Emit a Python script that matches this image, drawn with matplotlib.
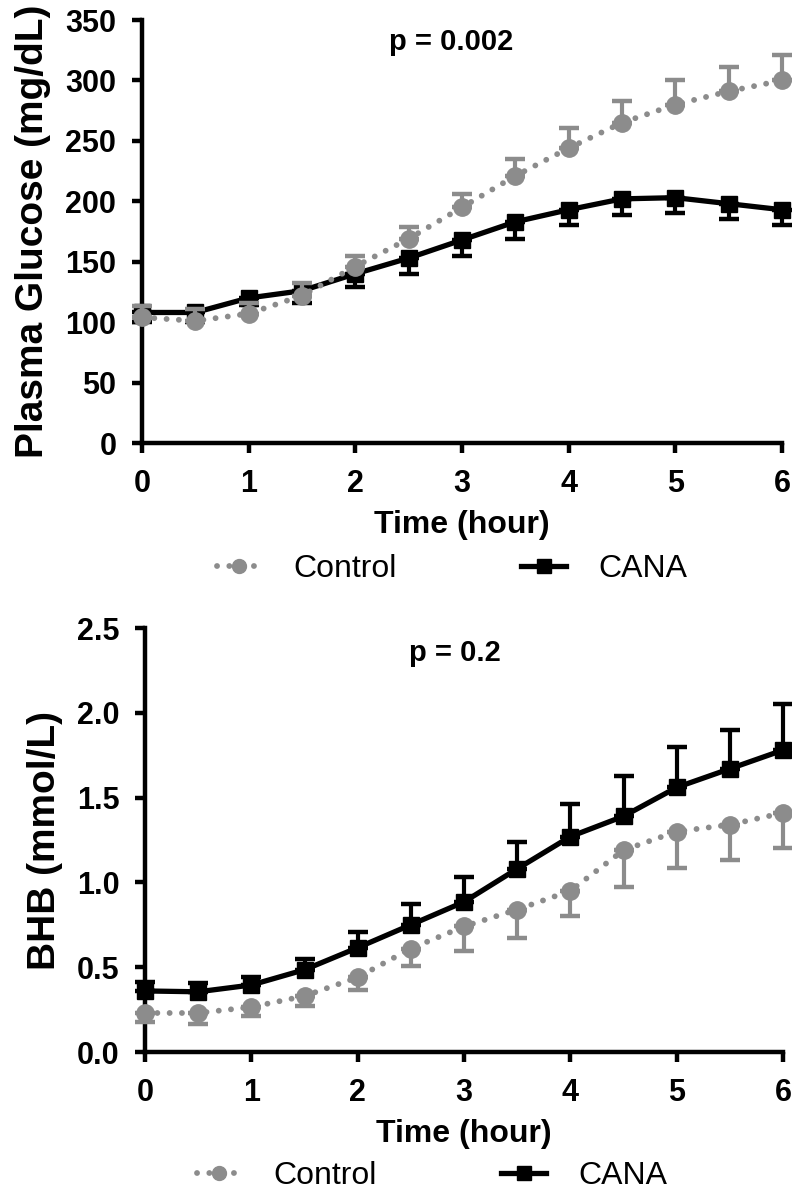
import matplotlib
matplotlib.use("Agg")
import matplotlib.pyplot as plt

plt.rcParams["font.family"] = ["Liberation Sans", "DejaVu Sans"]

# time points (hour)
time_h = [0, 0.5, 1, 1.5, 2, 2.5, 3, 3.5, 4, 4.5, 5, 5.5, 6]

# plasma glucose (mg/dL), mean and SEM
glucose_control = [104, 101, 107, 122, 146, 169, 195, 221, 244, 265, 280, 291, 300]
glucose_control_sem = [9, 10, 9, 10, 9, 10, 11, 14, 17, 18, 20, 20, 21]
glucose_cana = [108, 108, 120, 126, 140, 153, 168, 183, 193, 202, 203, 198, 193]
glucose_cana_sem = [8, 8, 6, 10, 11, 13, 13, 14, 13, 13, 13, 13, 13]

# BHB (mmol/L), mean and SEM
bhb_control = [0.23, 0.23, 0.265, 0.33, 0.44, 0.61, 0.74, 0.84, 0.95, 1.19, 1.30, 1.34, 1.41]
bhb_control_sem = [0.055, 0.065, 0.055, 0.06, 0.075, 0.10, 0.145, 0.17, 0.15, 0.22, 0.215, 0.21, 0.21]
bhb_cana = [0.36, 0.355, 0.395, 0.485, 0.615, 0.75, 0.885, 1.08, 1.27, 1.39, 1.56, 1.67, 1.78]
bhb_cana_sem = [0.05, 0.05, 0.05, 0.065, 0.095, 0.12, 0.145, 0.16, 0.19, 0.24, 0.24, 0.23, 0.27]

GRAY = "#8c8c8c"
BLACK = "#000000"


def one_sided(sem, upper):
    zeros = [0] * len(sem)
    return [zeros, sem] if upper else [sem, zeros]


def draw_panel(ax, ctrl, ctrl_sem, ctrl_up, cana, cana_sem, cana_up, ymax, ystep, ylabel, ptext, pxy, yfmt):
    eb = dict(fmt="none", elinewidth=3, capsize=7.5, capthick=3.2, clip_on=False)
    ax.errorbar(time_h, cana, yerr=one_sided(cana_sem, cana_up), ecolor=BLACK, zorder=3, **eb)
    ax.errorbar(time_h, ctrl, yerr=one_sided(ctrl_sem, ctrl_up), ecolor=GRAY, zorder=5, **eb)
    h_cana, = ax.plot(time_h, cana, color=BLACK, lw=3.8, marker="s", ms=12,
                      solid_joinstyle="miter", clip_on=False, zorder=4, label="CANA")
    h_ctrl, = ax.plot(time_h, ctrl, color=GRAY, lw=4.2, ls=(0, (0.01, 2.1)),
                      dash_capstyle="round", marker="o", ms=12.5, clip_on=False,
                      zorder=6, label="Control")

    ax.set_xlim(0, 6)
    ax.set_ylim(0, ymax)
    ax.set_xticks(range(0, 7))
    yt = [i * ystep for i in range(int(round(ymax / ystep)) + 1)]
    ax.set_yticks(yt)
    ax.set_yticklabels([yfmt.format(v) for v in yt])

    for s in ("top", "right"):
        ax.spines[s].set_visible(False)
    for s in ("left", "bottom"):
        ax.spines[s].set_linewidth(3.2)
    ax.tick_params(direction="out", length=7.5, width=3.2, labelsize=22, pad=11)
    for lab in ax.get_xticklabels() + ax.get_yticklabels():
        lab.set_fontweight("bold")

    ax.set_xlabel("Time (hour)", fontsize=23, fontweight="bold", labelpad=8)
    ax.set_ylabel(ylabel, fontsize=28, fontweight="bold", labelpad=10)
    ax.text(pxy[0], pxy[1], ptext, transform=ax.transAxes, ha="center", va="center",
            fontsize=21, fontweight="bold")
    return h_ctrl, h_cana


fig = plt.figure(figsize=(7.92, 11.98), dpi=100)
ax1 = fig.add_axes([142 / 792, 1 - 443 / 1198, 640 / 792, 423 / 1198])
ax2 = fig.add_axes([145 / 792, 1 - 1052 / 1198, 638 / 792, 424 / 1198])

h1 = draw_panel(ax1, glucose_control, glucose_control_sem, True,
                glucose_cana, glucose_cana_sem, False,
                350, 50, "Plasma Glucose (mg/dL)", "p = 0.002", (0.483, 0.948), "{:.0f}")
h2 = draw_panel(ax2, bhb_control, bhb_control_sem, False,
                bhb_cana, bhb_cana_sem, True,
                2.5, 0.5, "BHB (mmol/L)", "p = 0.2", (0.486, 0.941), "{:.1f}")

leg_kw = dict(loc="center", ncol=2, frameon=False, fontsize=23, handlelength=1.4,
              handletextpad=1.0, columnspacing=3.9, markerscale=0.8)
fig.legend(h1, ["Control", "CANA"], bbox_to_anchor=(452 / 792, 1 - 569 / 1198), **leg_kw)
fig.legend(h2, ["Control", "CANA"], bbox_to_anchor=(432 / 792, 1 - 1176 / 1198), **leg_kw)

fig.savefig("out.png", dpi=100)
